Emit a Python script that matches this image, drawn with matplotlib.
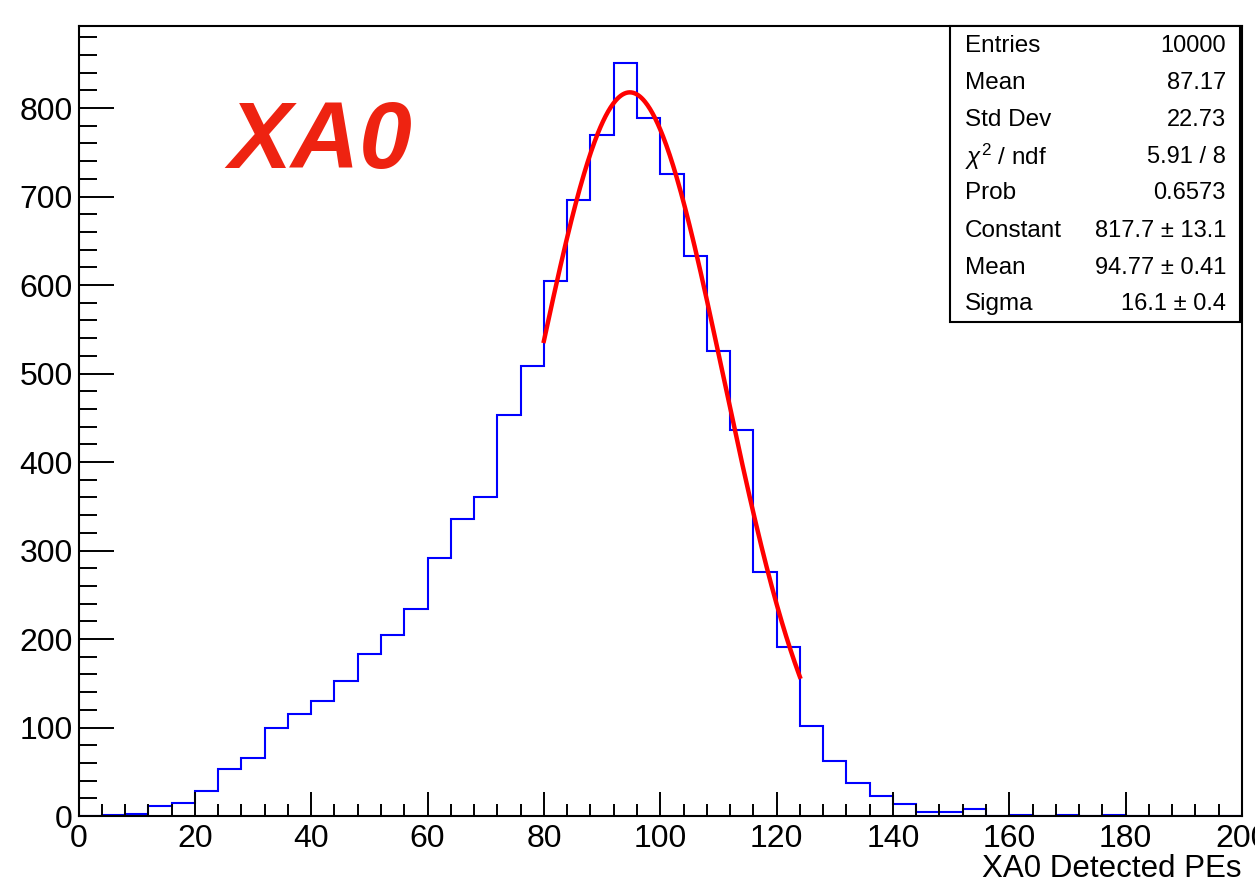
import numpy as np
import matplotlib
matplotlib.use("Agg")
import matplotlib.pyplot as plt
from matplotlib.patches import Rectangle
from matplotlib.ticker import MultipleLocator

plt.rcParams['font.family'] = ['Liberation Sans', 'DejaVu Sans']
plt.rcParams['mathtext.fontset'] = 'custom'
plt.rcParams['mathtext.rm'] = 'Liberation Sans'
plt.rcParams['mathtext.it'] = 'Liberation Sans:italic'

# histogram: 50 bins of width 4 from 0 to 200
bin_edges = np.arange(0, 204, 4)
counts = [0, 1, 2, 11, 15, 28, 53, 65, 99, 115,
          130, 153, 183, 205, 234, 291, 336, 360, 453, 509,
          604, 696, 769, 851, 789, 725, 633, 525, 436, 276,
          191, 102, 62, 37, 23, 14, 4, 5, 8, 0,
          1, 0, 1, 0, 1, 0, 0, 0, 0, 0]

# gaussian fit parameters (from the stat box)
fit_const = 817.7
fit_mean = 94.77
fit_sigma = 16.1
fit_range = (80, 124)

stat_labels = ['Entries', 'Mean', 'Std Dev', r'$\chi^2$ / ndf', 'Prob',
               'Constant', 'Mean', 'Sigma']
stat_values = ['10000', '87.17', '22.73', '5.91 / 8', '0.6573',
               '817.7 \u00b1 13.1', '94.77 \u00b1 0.41', '16.1 \u00b1 0.4']

W, H = 1255, 885
fig = plt.figure(figsize=(W / 100, H / 100), dpi=100)
ax = fig.add_axes([78.5 / W, (H - 816) / H, (1242 - 78.5) / W, (816 - 25.7) / H])

ax.stairs(counts, bin_edges, color='blue', lw=1.5)

xf = np.linspace(fit_range[0], fit_range[1], 300)
yf = fit_const * np.exp(-0.5 * ((xf - fit_mean) / fit_sigma) ** 2)
ax.plot(xf, yf, color='#ff0000', lw=3.2)

ax.set_xlim(0, 200)
ax.set_ylim(0, 893)

ax.xaxis.set_major_locator(MultipleLocator(20))
ax.xaxis.set_minor_locator(MultipleLocator(4))
ax.yaxis.set_major_locator(MultipleLocator(100))
ax.yaxis.set_minor_locator(MultipleLocator(20))
ax.tick_params(axis='both', which='both', direction='in', width=1.4,
               labelsize=23, top=False, right=False)
ax.tick_params(axis='x', which='major', length=17, pad=6)
ax.tick_params(axis='x', which='minor', length=8.6)
ax.tick_params(axis='y', which='major', length=25, pad=4)
ax.tick_params(axis='y', which='minor', length=13)
for s in ax.spines.values():
    s.set_linewidth(1.5)

ax.set_xlabel('XA0 Detected PEs', fontsize=22.5, loc='right', labelpad=0)

# big label
fig.text(228 / W, 1 - 168 / H, 'XA0', color='#ee2311', fontsize=68,
         fontweight='bold', fontstyle='italic', ha='left', va='baseline')

# stat box
box = Rectangle((950 / W, 1 - 322 / H), (1240 - 950) / W, (322 - 26) / H,
                transform=fig.transFigure, facecolor='white', edgecolor='black',
                lw=1.5, zorder=5)
fig.add_artist(box)
row_y = [46, 83, 120, 157, 193, 231, 268, 304]
for lab, val, yy in zip(stat_labels, stat_values, row_y):
    fig.text(965 / W, 1 - yy / H, lab, fontsize=17.5, ha='left', va='center', zorder=6)
    fig.text(1226 / W, 1 - yy / H, val, fontsize=17, ha='right', va='center', zorder=6)

fig.savefig('out.png', dpi=100)
